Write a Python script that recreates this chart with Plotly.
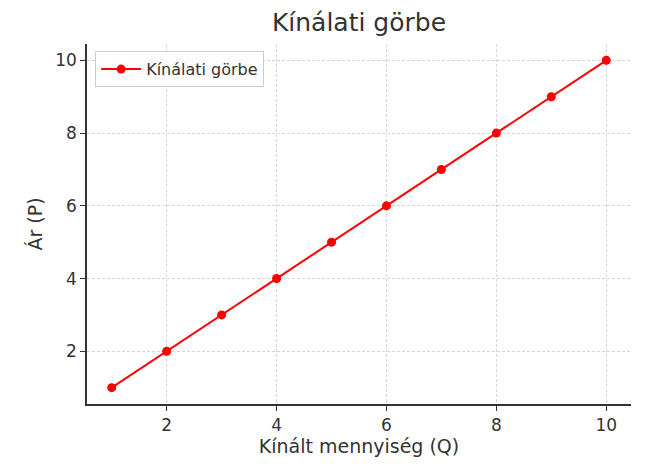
import plotly.graph_objects as go

quantity = [1, 2, 3, 4, 5, 6, 7, 8, 9, 10]
price = [1, 2, 3, 4, 5, 6, 7, 8, 9, 10]
series_name = "Kínálati görbe"
title_text = "Kínálati görbe"
x_title = "Kínált mennyiség (Q)"
y_title = "Ár (P)"

fig = go.Figure()
fig.add_trace(go.Scatter(
    x=quantity, y=price, mode="lines+markers", name=series_name,
    line=dict(color="#ff0000", width=2),
    marker=dict(color="#ff0000", size=9),
    showlegend=True,
))

font_family = "DejaVu Sans, sans-serif"
axis_common = dict(
    showgrid=True, gridcolor="#d6d6d6", griddash="3px,2px", gridwidth=1,
    showline=True, linecolor="#333333", linewidth=1.5,
    ticks="outside", ticklen=5, tickcolor="#333333", tickwidth=1.2,
    tickfont=dict(size=17, color="#333333", family=font_family),
    zeroline=False, mirror=False,
)
fig.update_layout(
    width=660, height=466,
    paper_bgcolor="white", plot_bgcolor="white",
    margin=dict(l=79, r=37, t=36, b=70),
    title=dict(text=title_text, x=0.5, xanchor="center", xref="paper",
               y=0.97, yanchor="middle", yref="container",
               font=dict(size=25, color="#333333", family=font_family)),
    xaxis=dict(range=[0.55, 10.45], tickvals=[2, 4, 6, 8, 10],
               title=dict(text=x_title, font=dict(size=19, color="#333333", family=font_family), standoff=4),
               **axis_common),
    yaxis=dict(range=[0.55, 10.45], tickvals=[2, 4, 6, 8, 10],
               title=dict(text=y_title, font=dict(size=19, color="#333333", family=font_family), standoff=8),
               **axis_common),
    legend=dict(x=0.015, y=0.98, xanchor="left", yanchor="top", itemwidth=40,
                bgcolor="rgba(255,255,255,0.9)", bordercolor="#cccccc", borderwidth=1,
                font=dict(size=16, color="#333333", family=font_family)),
    showlegend=True,
)

fig.write_html("out.html")
